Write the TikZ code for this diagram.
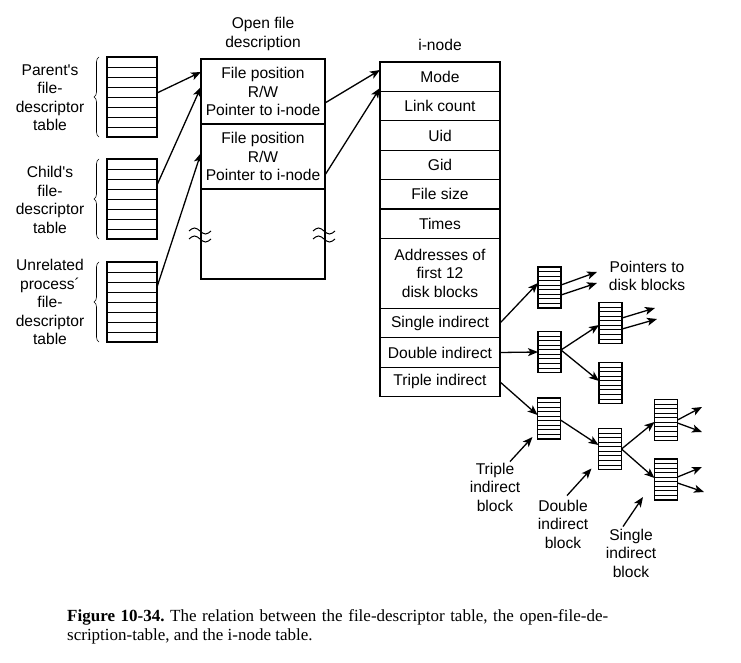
\documentclass[tikz,border=0pt]{standalone}
\usepackage{fontspec}
\setmainfont{Liberation Sans}[Ligatures=TeXOff]
\newfontfamily\captionfont{Liberation Serif}
\usetikzlibrary{arrows.meta, positioning, calc, decorations.pathreplacing}

\begin{document}
\begin{tikzpicture}[
  x=1pt, y=-1pt,
  font=\fontsize{15.6}{18.5}\selectfont,
  fdtab/.style={draw, line width=1.1pt, minimum width=50pt, minimum height=80pt, inner sep=0pt, outer sep=0pt,
    path picture={\foreach \k in {1,...,7}
      \draw[line width=0.9pt] ($(path picture bounding box.north west)!\k/8!(path picture bounding box.south west)$) -- ($(path picture bounding box.north east)!\k/8!(path picture bounding box.south east)$);}},
  blk/.style={draw, line width=1.1pt, minimum width=23pt, minimum height=41pt, inner sep=0pt, outer sep=0pt,
    path picture={\foreach \k in {1,...,8}
      \draw[line width=0.8pt] ($(path picture bounding box.north west)!\k/9!(path picture bounding box.south west)$) -- ($(path picture bounding box.north east)!\k/9!(path picture bounding box.south east)$);}},
  ofdbox/.style={draw, line width=1.2pt, minimum width=124pt, minimum height=65pt, inner sep=0pt, outer sep=0pt, align=center},
  irow/.style={draw, line width=1.2pt, minimum width=120pt, minimum height=29.4pt, inner sep=0pt, outer sep=0pt, align=center},
  lbl/.style={align=center, inner sep=0pt},
  arr/.style={-{Stealth[length=10pt, width=8pt, inset=2.5pt]}, line width=1.3pt},
  fdbrace/.style={decorate, decoration={brace, amplitude=5pt}, line width=0.6pt},
  capt/.style={font=\captionfont\fontsize{17}{19}\selectfont\frenchspacing, text width=541pt, align=justify, inner sep=0pt}
]
  \path[use as bounding box, fill=white] (0,0) rectangle (741,663);

  \node[fdtab] (parent) at (132,97) {};
  \node[fdtab] (child) at (132,199) {};
  \node[fdtab] (unrel) at (132,302) {};
  \draw[fdbrace] ([xshift=-8pt]parent.south west) -- ([xshift=-8pt]parent.north west);
  \draw[fdbrace] ([xshift=-8pt]child.south west) -- ([xshift=-8pt]child.north west);
  \draw[fdbrace] ([xshift=-8pt]unrel.south west) -- ([xshift=-8pt]unrel.north west);
  \node[lbl] (parlbl) at (50,97.5) {Parent's\\file-\\descriptor\\table};
  \node[lbl] (chlbl) at (50,200) {Child's\\file-\\descriptor\\table};
  \node[lbl] (unrlbl) at (50,302) {Unrelated\\process´\\file-\\descriptor\\table};

  \node[lbl] (ofdtitle) at (263,34) {Open file\\description};
  \node[ofdbox] (ofd1) at (263,91.5) {File position\\R/W\\Pointer to i-node};
  \node[ofdbox, below=0pt of ofd1] (ofd2) {File position\\R/W\\Pointer to i-node};
  \node[ofdbox, minimum height=90pt, below=0pt of ofd2] (ofd3) {};
  \foreach \bx in {200,324}
    \foreach \by in {231,239}
      \draw[line width=1pt] (\bx-11,\by) sin (\bx-5.5,\by-3) cos (\bx,\by) sin (\bx+5.5,\by+3) cos (\bx+11,\by);

  \node[lbl] (ititle) at (440,45) {i-node};
  \node[irow] (mode) at (440,76.7) {Mode};
  \node[irow, below=0pt of mode] (links) {Link count};
  \node[irow, below=0pt of links] (uid) {Uid};
  \node[irow, below=0pt of uid] (gid) {Gid};
  \node[irow, below=0pt of gid] (fsize) {File size};
  \node[irow, below=0pt of fsize] (times) {Times};
  \node[irow, minimum height=70pt, below=0pt of times] (addr) {Addresses of\\first 12\\disk blocks};
  \node[irow, below=0pt of addr] (single) {Single indirect};
  \node[irow, below=0pt of single] (double) {Double indirect};
  \node[irow, below=0pt of double] (triple) {Triple indirect};

  \node[blk] (blka) at (549.5,287.5) {};
  \node[blk] (blkb) at (549.5,352) {};
  \node[blk] (blkc) at (610.5,323) {};
  \node[blk] (blkd) at (610.5,383) {};
  \node[blk] (blke) at (549,418.5) {};
  \node[blk] (blkf) at (610,449) {};
  \node[blk] (blkg) at (666,420) {};
  \node[blk] (blkh) at (666,479.5) {};

  \node[lbl] (ptrlbl) at (647,276) {Pointers to\\disk blocks};
  \node[lbl] (tlbl) at (495,487) {Triple\\indirect\\block};
  \node[lbl] (dlbl) at (563,524) {Double\\indirect\\block};
  \node[lbl] (slbl) at (631,553) {Single\\indirect\\block};

  \coordinate (pa1) at (597,272);
  \coordinate (pa2) at (597,283);
  \coordinate (pc1) at (655,308);
  \coordinate (pc2) at (657,319);
  \coordinate (pg1) at (702,407);
  \coordinate (pg2) at (702,432);
  \coordinate (ph1) at (702,467);
  \coordinate (ph2) at (704,492);

  \draw[arr] ([yshift=4pt]parent.east) -- ([yshift=19.5pt]ofd1.west);
  \draw[arr] ([yshift=14pt]child.east) -- ([yshift=4.5pt]ofd1.west);
  \draw[arr] ([yshift=15pt]unrel.east) -- ([yshift=3.5pt]ofd2.west);
  \draw[arr] ([yshift=-11.5pt]ofd1.east) -- ([yshift=6.7pt]mode.west);
  \draw[arr] ([yshift=-18.5pt]ofd2.east) -- ([yshift=-11.3pt]mode.west);

  \draw[arr] (single.east) -- ([yshift=4.5pt]blka.west);
  \draw[arr] (double.east) -- (blkb.west);
  \draw[arr] (triple.east) -- ([yshift=3.5pt]blke.west);
  \draw[arr] ([yshift=2.5pt]blka.east) -- (pa1);
  \draw[arr] ([yshift=-7.5pt]blka.east) -- (pa2);
  \draw[arr] ([yshift=2pt]blkb.east) -- ([yshift=-2pt]blkc.west);
  \draw[arr] ([yshift=2pt]blkb.east) -- ([yshift=2pt]blkd.west);
  \draw[arr] ([yshift=5pt]blkc.east) -- (pc1);
  \draw[arr] ([yshift=-6pt]blkc.east) -- (pc2);
  \draw[arr] ([yshift=-1.5pt]blke.east) -- ([yshift=4pt]blkf.west);
  \draw[arr] (blkf.east) -- ([yshift=-2pt]blkg.west);
  \draw[arr] (blkf.east) -- ([yshift=1.5pt]blkh.west);
  \draw[arr] (blkg.east) -- (pg1);
  \draw[arr] ([yshift=-3pt]blkg.east) -- (pg2);
  \draw[arr] ([yshift=2.5pt]blkh.east) -- (ph1);
  \draw[arr] ([yshift=-3.5pt]blkh.east) -- (ph2);

  \draw[arr] ([xshift=15pt,yshift=1pt]tlbl.north) -- ([xshift=-5pt,yshift=2pt]blke.south west);
  \draw[arr] ([xshift=4pt,yshift=4pt]dlbl.north) -- ([xshift=-7pt,yshift=1pt]blkf.south west);
  \draw[arr] ([xshift=-8pt,yshift=2pt]slbl.north) -- ([xshift=-11.5pt,yshift=3pt]blkh.south west);

  \node[capt, anchor=north west] (caption) at (67,609) {\textbf{Figure 10-34.} The relation between the file-descriptor table, the open-file-de-\linebreak scription-table, and the i-node table.};
\end{tikzpicture}
\end{document}
